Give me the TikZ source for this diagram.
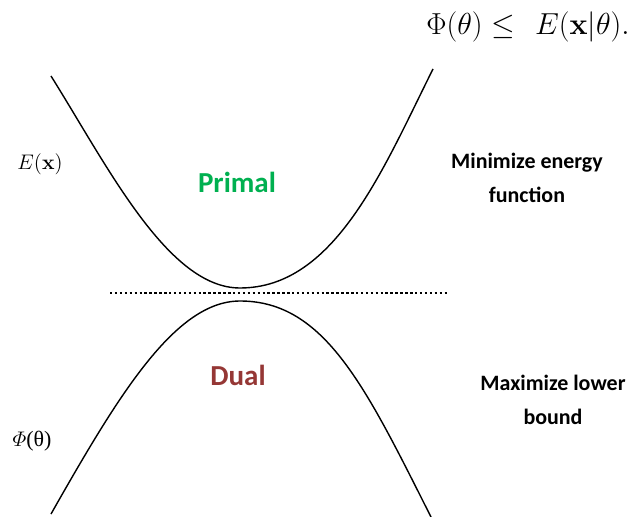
\documentclass[tikz,border=0pt]{standalone}
\usepackage{amsmath}
\usepackage{amssymb}
\usepackage[no-math]{fontspec}
\setmainfont{Carlito}
\newfontfamily\serifgreek{Liberation Serif}
\usepackage{xcolor}
\definecolor{primalgreen}{RGB}{0,176,80}
\definecolor{dualred}{RGB}{149,55,53}

\begin{document}
\begin{tikzpicture}[x=0.02cm,y=-0.02cm]
\useasboundingbox (0,0) rectangle (629,517);
% primal curve, opening upwards
\draw[thick] (51,76) .. controls (108,167) and (168,288) .. (240,288)
  .. controls (335,288) and (383,169) .. (433,69);
% dual curve, opening downwards
\draw[thick] (51,514) .. controls (118,396) and (175,301) .. (240,301)
  .. controls (325,301) and (366,388) .. (431,517);
% separating line
\coordinate (lineL) at (110,293);
\coordinate (lineR) at (447,293);
\draw[line width=1.2pt,dash pattern=on 1.4pt off 1.4pt] (lineL)--(lineR);
\node (bound) at (528,27) {\fontsize{17}{19}\selectfont $\Phi(\theta) \leq\ \,E(\mathbf{x}|\theta).$};
\node (Ex) at (40,164) {\fontsize{12.5}{14}\selectfont $E(\mathbf{x})$};
\node (Phi) at (32,441) {\fontsize{12.5}{14}\selectfont $\varPhi${\serifgreek(θ)}};
\node[text=primalgreen,font=\bfseries\fontsize{16.5}{20}\selectfont] (primal) at (237,182) {Primal};
\node[text=dualred,font=\bfseries\fontsize{16.5}{20}\selectfont] (dual) at (238,375) {Dual};
\node[align=center,font=\bfseries\fontsize{12.5}{19.5}\selectfont] (minE) at (527,178) {Minimize energy\\function};
\node[align=center,font=\bfseries\fontsize{12.5}{19.5}\selectfont] (maxL) at (553,400) {Maximize lower\\bound};
\end{tikzpicture}
\end{document}
